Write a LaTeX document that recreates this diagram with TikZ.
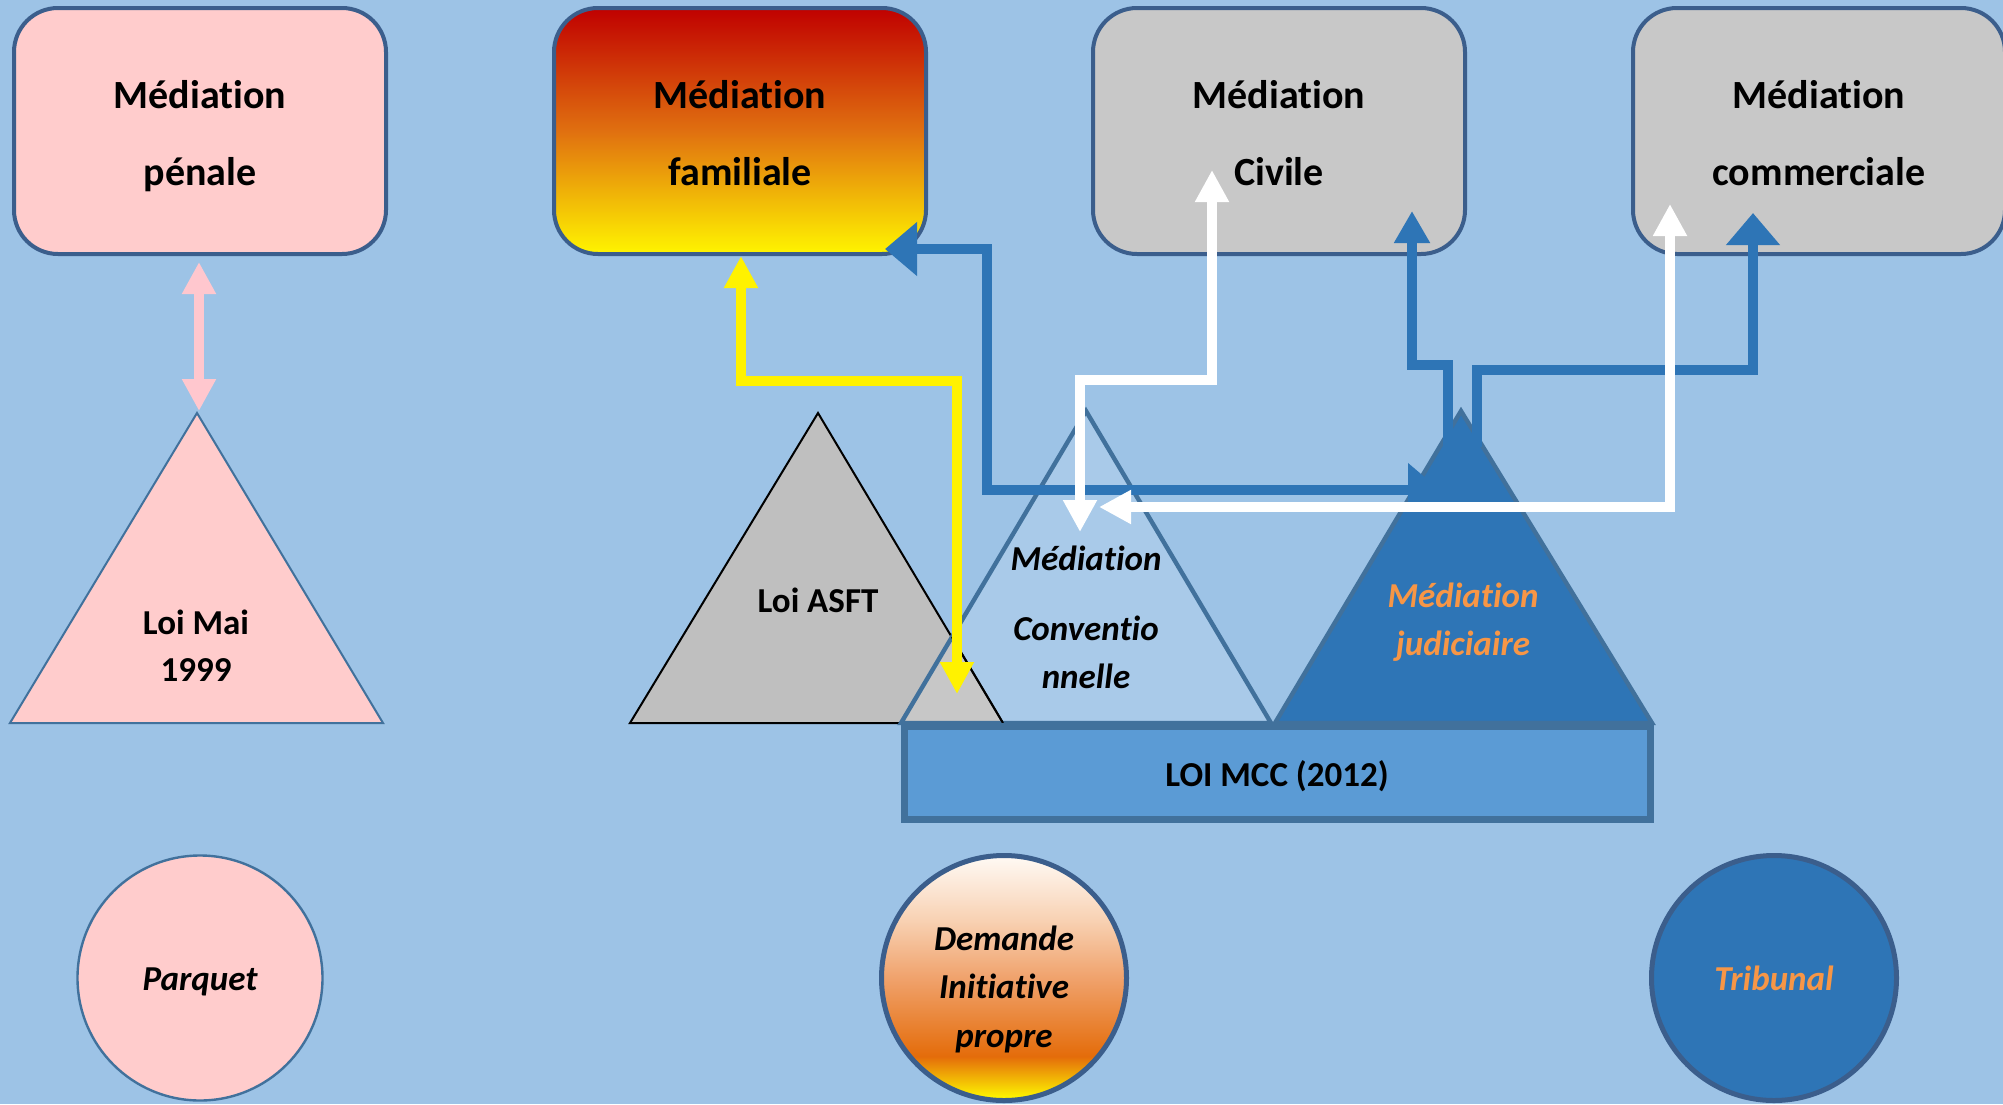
\documentclass[tikz,border=0pt]{standalone}
\usepackage{fontspec}
\setmainfont[Ligatures=NoCommon]{Carlito}
\usetikzlibrary{arrows.meta}
\definecolor{bg}{HTML}{9DC3E6}
\definecolor{pinkF}{HTML}{FFCCCC}
\definecolor{pinkA}{HTML}{FFC7CE}
\definecolor{boxB}{RGB}{59,94,140}
\definecolor{grayBox}{HTML}{C8C8C8}
\definecolor{grayTri}{HTML}{BFBFBF}
\definecolor{blueF}{HTML}{2E75B6}
\definecolor{loiF}{HTML}{5B9BD5}
\definecolor{triB}{HTML}{41719C}
\definecolor{triB1}{HTML}{41719C}
\definecolor{orangeT}{HTML}{F79646}
\definecolor{famTop}{HTML}{C00000}
\definecolor{famMid}{HTML}{E07010}
\definecolor{famBot}{HTML}{FFF500}
\definecolor{dTop}{HTML}{FFFAF5}
\definecolor{dLight}{HTML}{F8D2B4}
\definecolor{dMid}{HTML}{F0A26C}
\definecolor{dOr}{HTML}{E46C0A}
\definecolor{dBot}{HTML}{FFFF00}
\pgfdeclareverticalshading{demsh}{100bp}{color(0bp)=(dBot); color(25bp)=(dBot); color(34bp)=(dOr); color(50bp)=(dMid); color(62bp)=(dLight); color(75bp)=(dTop); color(100bp)=(dTop)}
\tikzset{
  box/.style={draw=boxB, line width=2pt, rounded corners=22pt, minimum width=186pt, minimum height=123pt, inner sep=0pt},
  circ/.style={circle, draw=boxB, line width=2.5pt, minimum size=122.5pt, inner sep=0pt},
  bigtxt/.style={anchor=base, inner sep=0pt, font=\fontsize{20}{24}\selectfont\bfseries},
  midtxt/.style={anchor=base, inner sep=0pt, font=\fontsize{17.5}{21}\selectfont\bfseries},
  ittxt/.style={anchor=base, inner sep=0pt, font=\fontsize{17.5}{21}\selectfont\bfseries\itshape},
  conn/.style={line width=5.2pt, line join=miter, line cap=butt},
}
\begin{document}
\begin{tikzpicture}[x=0.5pt,y=-0.5pt]
\useasboundingbox (0,0) rectangle (2003,1104);
\fill[bg] (0,0) rectangle (2003,1104);

% top boxes
\node[box, fill=pinkF] (pen) at (200,131) {};
\node[box, top color=famTop, bottom color=famBot, middle color=famMid] (fam) at (740,131) {};
\node[box, fill=grayBox] (civ) at (1279,131) {};
\node[box, fill=grayBox] (com) at (1819,131) {};
\node[bigtxt] (penA) at (200,108) {Médiation};
\node[bigtxt] (penB) at (200,185) {pénale};
\node[bigtxt] (famA) at (740,108) {Médiation};
\node[bigtxt] (famB) at (740,185) {familiale};
\node[bigtxt] (civA) at (1279,108) {Médiation};
\node[bigtxt] (civB) at (1279,185) {Civile};
\node[bigtxt] (comA) at (1819,108) {Médiation};
\node[bigtxt] (comB) at (1819,185) {commerciale};

% circles
\node[circ, fill=pinkF, line width=1.2pt, draw=triB] (parq) at (200,978) {};
\node[circ, shading=demsh] (dem) at (1004,978) {};
\node[circ, fill=blueF] (trib) at (1774,978) {};
\node[ittxt] (parqT) at (200,990) {Parquet};
\node[ittxt] (demA) at (1004,950) {Demande};
\node[ittxt] (demB) at (1004,998) {Initiative};
\node[ittxt] (demC) at (1004,1047) {propre};
\node[ittxt, text=orangeT] (tribT) at (1774,990) {Tribunal};

% triangles
\draw[draw=triB1, line width=1pt, fill=pinkF] (197,413) -- (383,723) -- (10,723) -- cycle;
\draw[draw=black, line width=1pt, fill=grayTri] (818,413) -- (1003,723) -- (630,723) -- cycle;
\fill[white, fill opacity=0.13] (1086,411) -- (1271,723) -- (901,723) -- cycle;
\draw[draw=triB, line width=2.2pt] (1086,411) -- (1271,723) -- (901,723) -- cycle;
\draw[black, line width=1pt] (952,637) -- (1003,723);
\draw[draw=triB, line width=2.2pt, fill=blueF] (1461,411) -- (1652,723) -- (1275,723) -- cycle;

% LOI MCC
\node[draw=triB, line width=3.5pt, fill=loiF, minimum width=373pt, minimum height=46.5pt, inner sep=0pt] (loi) at (1277,773) {};
\node[midtxt] (loiT) at (1277,786) {LOI MCC (2012)};

% coordinates for connector ends
\coordinate (penIn) at (199,262);
\coordinate (maiIn) at (199,411);
\coordinate (famY) at (741,256);
\coordinate (asftY) at (957,694);
\coordinate (famBl) at (885,249);
\coordinate (judL) at (1440,490);
\coordinate (civBl) at (1412,211);
\coordinate (judA) at (1448,447);
\coordinate (comBl) at (1753,213);
\coordinate (judB) at (1477,447);
\coordinate (civW) at (1212,170);
\coordinate (convA) at (1080,532);
\coordinate (comW) at (1670,204);
\coordinate (convB) at (1099,507);

% connectors
\draw[conn, pinkA, {Triangle[length=16pt,width=16pt]}-{Triangle[length=16pt,width=16pt]}] (penIn) -- (maiIn);
\draw[conn, blueF, {Triangle[length=16pt,width=26pt]}-{Triangle[length=16pt,width=26pt]}] (famBl) -- (987,249) -- (987,490) -- (judL);
\draw[conn, blueF, {Triangle[length=16pt,width=17pt]}-] (civBl) -- (1412,365) -- (1448,365) -- (judA);
\draw[conn, blueF, {Triangle[length=16pt,width=26pt]}-] (comBl) -- (1753,370) -- (1477,370) -- (judB);
\draw[conn, yellow, {Triangle[length=16pt,width=16pt]}-{Triangle[length=16pt,width=16pt]}] (famY) -- (741,381) -- (957,381) -- (asftY);
\draw[conn, white, {Triangle[length=16pt,width=16pt]}-{Triangle[length=16pt,width=16pt]}] (civW) -- (1212,380) -- (1080,380) -- (convA);
\draw[conn, white, {Triangle[length=16pt,width=16pt]}-{Triangle[length=16pt,width=16pt]}] (comW) -- (1670,507) -- (convB);

% triangle texts
\node[midtxt] (maiA) at (196,634) {Loi Mai};
\node[midtxt] (maiB) at (196,681) {1999};
\node[midtxt] (asftT) at (818,612) {Loi ASFT};
\node[ittxt] (convT1) at (1086,570) {Médiation};
\node[ittxt] (convT2) at (1086,640) {Conventio};
\node[ittxt] (convT3) at (1086,688) {nnelle};
\node[ittxt, text=orangeT] (judT1) at (1463,607) {Médiation};
\node[ittxt, text=orangeT] (judT2) at (1463,655) {judiciaire};
\end{tikzpicture}
\end{document}
